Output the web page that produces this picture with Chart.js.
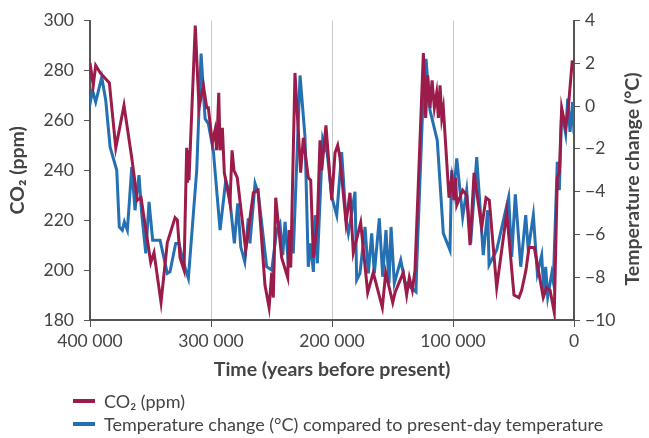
<!DOCTYPE html>
<html>
<head>
<meta charset="utf-8">
<script src="https://cdn.jsdelivr.net/npm/chart.js@4"></script>
<style>
  body { margin: 0; background: #fff; }
  #wrap { position: relative; width: 649px; height: 438px; font-family: Lato, "Open Sans", sans-serif; color: #444; }
  .leg { position: absolute; left: 73px; font-size: 18px; display: flex; align-items: center; }
  .leg span.mk { display: inline-block; width: 22px; height: 4px; margin-right: 9px; }
</style>
</head>
<body>
<div id="wrap">
  <canvas id="chart" width="649" height="438"></canvas>
  <div class="leg" style="top:390px"><span class="mk" style="background:#9b1b4b"></span>CO₂ (ppm)</div>
  <div class="leg" style="top:413px"><span class="mk" style="background:#2470b3"></span>Temperature change (°C) compared to present-day temperature</div>
</div>
<script>
// tiempo en miles de años antes del presente
const co2Years = [400, 397.3, 395.3, 391.5, 384, 378.7, 371.9, 365.5, 360.9, 357.8, 349.8, 347.1, 341.3, 336.1,
  329.7, 327.8, 325.6, 322.3, 320.1, 319.4, 318.7, 318.2, 313, 309.9, 306.3, 303.5, 302.2, 298.9, 296.7, 295.3,
  293.6, 292.5, 290.6, 289, 284.3, 282.6, 281, 278.3, 271.3, 265, 261.1, 255.4, 252, 249.8, 248.5, 246.5, 241.6,
  236.6, 235.5, 234.1, 230.6, 225.9, 223.7, 219.6, 217.6, 215.4, 212.1, 209.9, 208.5, 205, 200.2, 197.5, 195.3,
  193.4, 188.4, 185.1, 182.4, 176.3, 170.5, 165.9, 158.4, 155.6, 149.8, 147.9, 141.1, 138.3, 136.1, 133.6, 131.4,
  124.5, 122.6, 120.9, 119, 117.3, 115.4, 113.5, 112.1, 110.7, 109.3, 108, 103.3, 101.1, 99.2, 97.8, 96.9, 92,
  88.7, 85.9, 82.6, 76.3, 72.7, 70, 63.9, 55.6, 49.6, 45.5, 43.2, 39.7, 37.2, 32.8, 25.4, 22.6, 19.8, 16.3, 13.8,
  12.1, 10.2, 6.9, 4.7, 1.4];
const co2Values = [283, 274, 282, 279, 275, 249, 266, 245, 228, 229, 203, 207, 187, 211,
  221, 220, 205, 200, 249, 235, 248, 236, 298, 265, 274, 265, 265, 251, 256, 248,
  271, 248, 257, 239, 227, 248, 240, 237, 208, 231, 232, 194, 185, 199, 189, 229, 205,
  197, 216, 201, 279, 239, 253, 237, 236, 205, 219, 252, 240, 258, 228, 247, 250,
  245, 219, 231, 207, 219, 191, 199, 185, 199, 187, 191, 199, 190, 197, 192, 200,
  287, 261, 278, 265, 276, 265, 271, 261, 274, 261, 265, 229, 237, 228, 237, 226, 232,
  230, 210, 239, 217, 229, 228, 193, 223, 190, 189, 192, 200, 209, 209, 189, 193, 192, 183, 237,
  239, 265, 257, 265, 284];

const tempYears = [400.5, 398, 395.3, 390.3, 387, 383.4, 377.9, 375.8, 373.3, 371.6, 369.1, 365.5, 362.8, 359.5,
  357.3, 353.9, 351.2, 348.2, 342.1, 336.1, 333.9, 329.2, 326.4, 322.9, 318.7, 311.8, 308.2, 304.9, 302.2, 298.1,
  292.5, 287.8, 285.1, 280.7, 277.9, 275.4, 272.1, 269.2, 267.8, 263.6, 260.9, 254, 249.8, 245.7, 243, 240.7,
  238.8, 236.1, 233.3, 232, 226.4, 222.3, 219.6, 217.6, 215.4, 214, 212.1, 207.7, 203.9, 200.2, 196.1, 192,
  188.4, 186.5, 185.1, 181, 179.6, 176.9, 172.7, 170, 167.2, 165, 160.9, 158.1, 155.4, 152.9, 151.2, 148.5,
  143.2, 139.7, 137.2, 130.6, 130, 125, 122.3, 119, 113, 108, 102.5, 101.1, 99.2, 96.9, 92, 88.7, 85.4, 80.4,
  75, 71.3, 70.2, 63.9, 54, 51.5, 48.5, 44, 39.9, 37.8, 33.6, 30.3, 26.7, 24.8, 23.4, 21.7, 18.4, 17.1, 13.8,
  12.1, 10.2, 6.9, 5.2, 3.3, 1.1, 0];
const tempValues = [-0.05, 0.73, 0.19, 1.35, 0.27, -1.91, -3.0, -5.65, -5.8, -5.41, -5.8, -2.85, -4.87, -3.23,
  -5.02, -6.89, -4.48, -6.27, -6.27, -7.82, -7.75, -6.42, -6.42, -7.28, -8.05, -3.0, 2.45, -0.59, -0.82, -2.07,
  -5.8, -3.47, -4.01, -6.42, -4.55, -6.58, -7.28, -5.25, -6.42, -3.62, -4.09, -7.51, -7.67, -5.8, -5.49, -6.97,
  -5.41, -7.35, -5.8, -6.89, 1.43, -1.45, -7.51, -6.42, -7.75, -5.1, -7.35, -1.52, -2.22, -4.25, -5.1, -2.15,
  -5.33, -5.95, -5.49, -4.01, -8.13, -7.82, -5.65, -7.82, -5.95, -7.82, -5.25, -7.98, -5.8, -8.29, -5.65, -8.29,
  -7.2, -8.21, -8.37, -8.68, -7.51, -0.05, 2.21, -0.2, -1.6, -5.95, -6.73, -3.0, -3.93, -2.45, -5.18, -3.93, -6.42, -2.38,
  -6.97, -4.87, -7.43, -6.73, -4.25, -7.05, -4.13, -7.51, -5.1, -6.73, -5.1, -7.82, -6.97, -8.83, -7.51, -8.91, -7.82, -8.21, -2.61,
  -3.93, -0.2, -1.29, 0.35, -1.21, 0.19, -1.29];

const xTicks = [0, 100000, 200000, 300000, 400000];

const textColor = "#444";
const axisColor = "#555";

const co2Points = co2Years.map((y, i) => ({ x: y * 1000, y: co2Values[i] }));
const tempPoints = tempYears.map((y, i) => ({ x: y * 1000, y: tempValues[i] }));

// titulo del eje derecho (de abajo hacia arriba)
const rightTitle = {
  id: "rightTitle",
  afterDraw(chart) {
    const ctx = chart.ctx;
    ctx.save();
    ctx.translate(633, 179);
    ctx.rotate(-Math.PI / 2);
    ctx.font = "bold 19.5px Lato, 'Open Sans', sans-serif";
    ctx.fillStyle = textColor;
    ctx.textAlign = "center";
    ctx.textBaseline = "middle";
    ctx.fillText("Temperature change (°C)", 0, 0);
    ctx.restore();
  },
};

new Chart(document.getElementById("chart").getContext("2d"), {
  type: "line",
  data: {
    datasets: [
      {
        label: "CO₂ (ppm)",
        data: co2Points,
        borderColor: "#9b1b4b",
        borderWidth: 3,
        pointRadius: 0,
        yAxisID: "y",
      },
      {
        label: "Temperature change (°C) compared to present-day temperature",
        data: tempPoints,
        borderColor: "#2470b3",
        borderWidth: 3,
        pointRadius: 0,
        yAxisID: "y2",
      },
    ],
  },
  options: {
    responsive: false,
    animation: false,
    layout: { padding: { top: 20, bottom: 57, left: 0, right: 0 } },
    plugins: { legend: { display: false }, tooltip: { enabled: false } },
    scales: {
      x: {
        type: "linear",
        reverse: true,
        min: 0,
        max: 400000,
        afterBuildTicks: (s) => { s.ticks = xTicks.map((v) => ({ value: v })); },
        afterFit: (s) => { s.height = 61; },
        ticks: {
          color: textColor,
          font: { family: "Lato", size: 17.5 },
          padding: 4,
          maxRotation: 0,
          callback: (v) => (v === 0 ? "0" : v / 1000 + " 000"),
        },
        grid: { color: "#c8c8c8", tickColor: axisColor, tickLength: 7, lineWidth: 1 },
        border: { color: axisColor, width: 2 },
        title: {
          display: true,
          text: "Time (years before present)",
          color: textColor,
          font: { family: "Lato", size: 19.5, weight: "bold" },
          padding: { top: 0, bottom: 0 },
        },
      },
      y: {
        position: "left",
        min: 180,
        max: 300,
        afterFit: (s) => { s.width = 90; },
        ticks: { stepSize: 20, color: textColor, font: { family: "Lato", size: 17.5 }, padding: 10 },
        grid: { drawOnChartArea: false, color: axisColor, tickLength: 6 },
        border: { color: axisColor, width: 2 },
        title: {
          display: true,
          text: "CO₂ (ppm)",
          color: textColor,
          font: { family: "Lato", size: 19.5, weight: "bold" },
          padding: { top: 6, bottom: 0 },
        },
      },
      y2: {
        position: "right",
        min: -10,
        max: 4,
        afterFit: (s) => { s.width = 75; },
        ticks: {
          stepSize: 2,
          color: textColor,
          font: { family: "Lato", size: 17.5 },
          padding: 5,
          callback: (v) => (v < 0 ? "\u2212" + Math.abs(v) : String(v)),
        },
        grid: { drawOnChartArea: false, color: axisColor, tickLength: 6 },
        border: { color: axisColor, width: 2 },
      },
    },
  },
  plugins: [rightTitle],
});
</script>
</body>
</html>
